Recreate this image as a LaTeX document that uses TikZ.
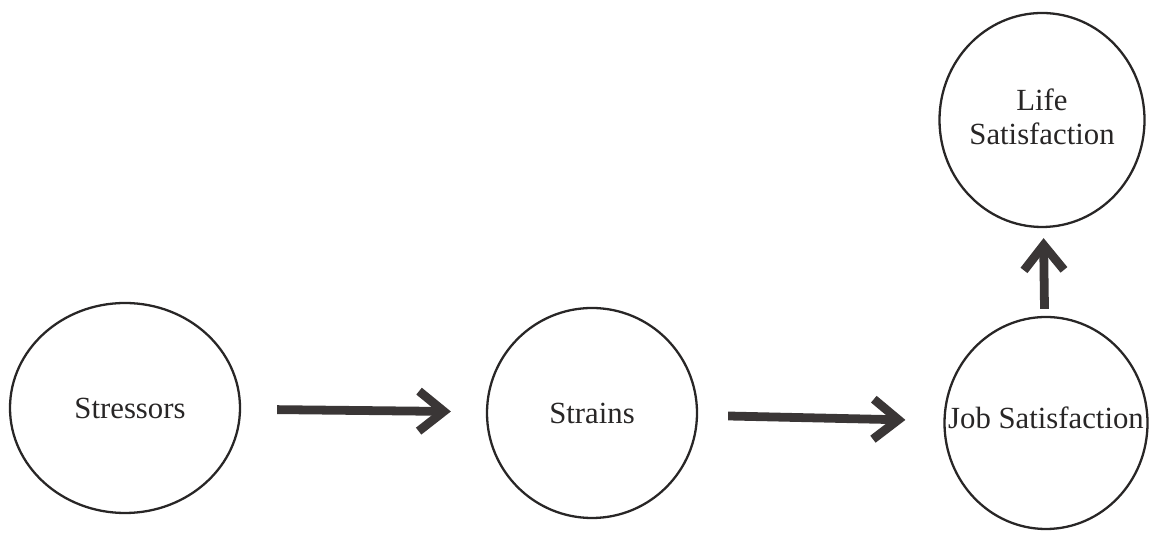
\documentclass[tikz,border=0pt]{standalone}
\usepackage{fontspec}
\setmainfont{Liberation Serif}
\usetikzlibrary{arrows.meta, shapes.geometric}
\definecolor{inkgray}{RGB}{40,38,38}
\definecolor{arrowgray}{RGB}{58,54,54}

\begin{document}
\begin{tikzpicture}[
    construct/.style={ellipse, draw=inkgray, line width=1.3pt, inner sep=0pt},
    construct label/.style={text=inkgray, font=\fontsize{17.5}{19.5}\selectfont,
      align=center, inner sep=0pt},
    path arrow/.style={draw=arrowgray, line width=5pt,
      -{Straight Barb[sharp, length=0.5cm, width=0.8cm]}}
  ]
  \useasboundingbox (0,0) rectangle (23.04,10.66);

  % Constructs
  \node[construct, minimum width=4.6cm, minimum height=4.2cm,
    label={[construct label, xshift=0.1cm]center:Stressors}] (stressors) at (2.50,2.50) {};
  \node[construct, minimum width=4.2cm, minimum height=4.2cm,
    label={[construct label]center:Strains}] (strains) at (11.84,2.40) {};
  \node[construct, minimum width=4.06cm, minimum height=4.24cm,
    label={[construct label, yshift=0.1cm]center:Job Satisfaction}] (jobsat) at (20.92,2.20) {};
  \node[construct, minimum width=4.1cm, minimum height=4.28cm,
    label={[construct label, yshift=0.07cm]center:Life\\Satisfaction}] (lifesat) at (20.84,8.26) {};

  % Paths
  \draw[path arrow, shorten <=0.72cm, shorten >=0.7cm] (stressors) -- (strains);
  \draw[path arrow, shorten <=0.6cm, shorten >=0.76cm] (strains) -- (jobsat);
  \draw[path arrow, shorten <=0.14cm, shorten >=0.2cm] (jobsat) -- (lifesat);

\end{tikzpicture}
\end{document}
